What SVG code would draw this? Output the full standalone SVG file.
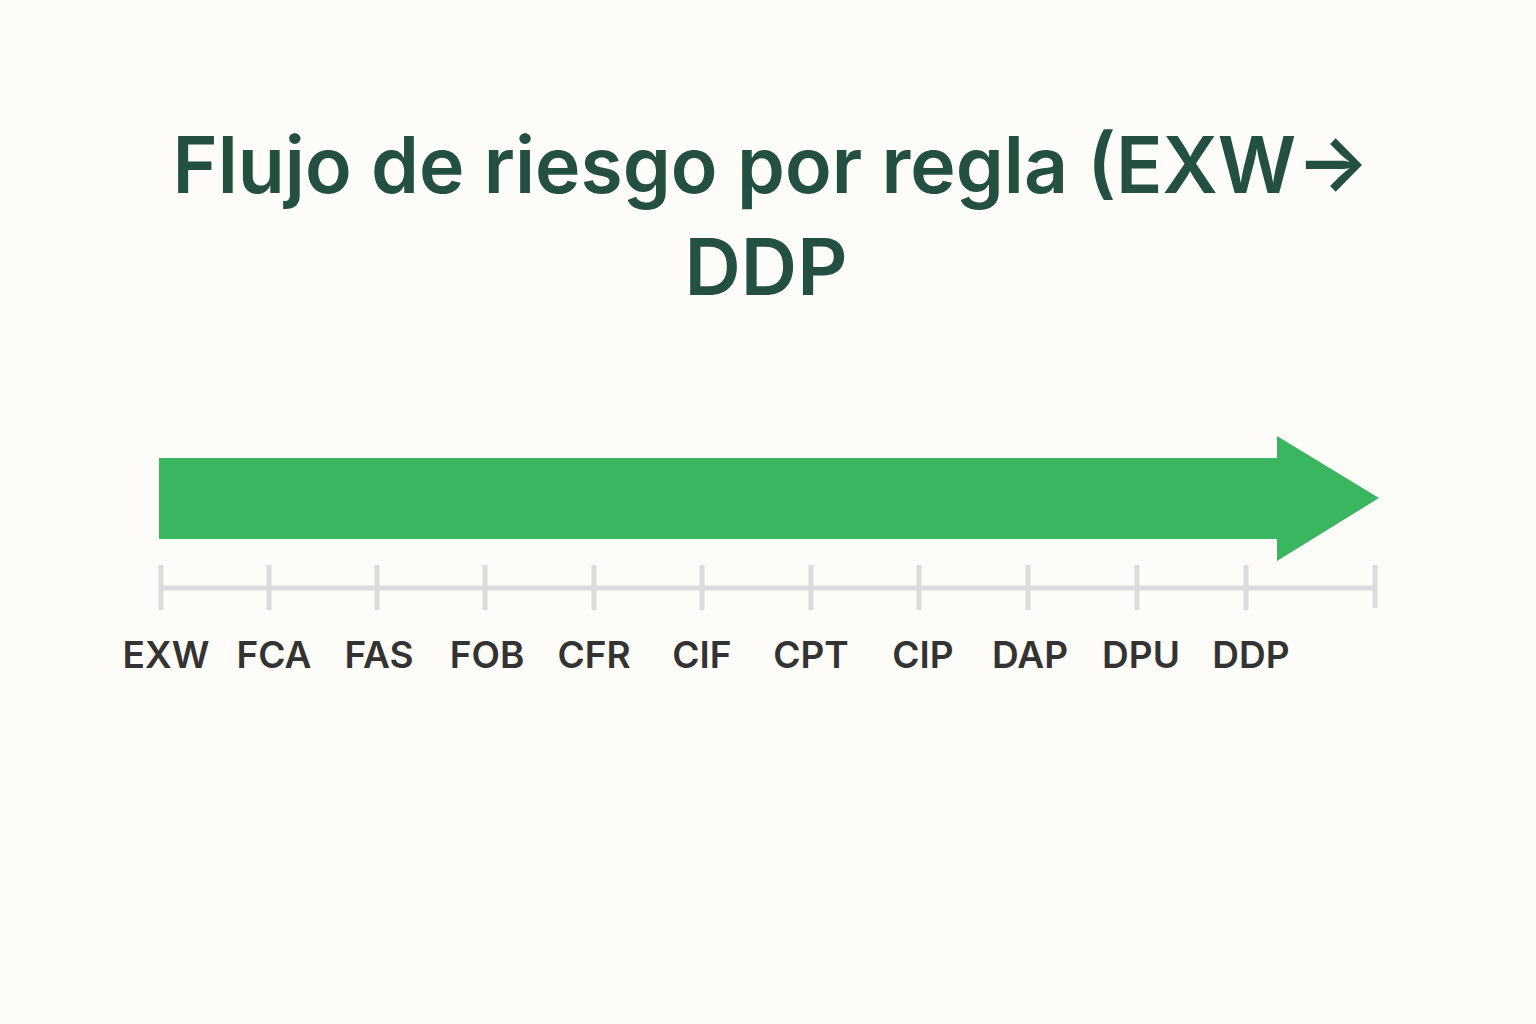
<svg xmlns="http://www.w3.org/2000/svg" width="1536" height="1024" viewBox="0 0 1536 1024">
<style>
.title{font-family:Inter,"Noto Sans","Liberation Sans",sans-serif;font-size:78px;font-weight:600;fill:#24503f;text-anchor:middle}
.lbl{font-family:Inter,"Noto Sans","Liberation Sans",sans-serif;font-size:37px;font-weight:600;fill:#333333;text-anchor:middle}
.tick{stroke:#dcdcdc;stroke-width:5;fill:none}
</style>
<rect width="1536" height="1024" fill="#fdfcf8"/>
<g id="title">
<text class="title" x="771" y="193" textLength="1197" lengthAdjust="spacingAndGlyphs">Flujo de riesgo por regla (EXW→</text>
<text class="title" x="766" y="295">DDP</text>
</g>
<g id="arrow">
<polygon points="159,458 1277,458 1277,436 1379,498 1277,561 1277,539 159,539" fill="#3ab560"/>
</g>
<g id="connectors">
<line class="tick" x1="161" y1="588" x2="1375" y2="588"/>
<g class="ticks">
<line class="tick" x1="161" y1="565" x2="161" y2="610"/>
<line class="tick" x1="269" y1="565" x2="269" y2="610"/>
<line class="tick" x1="377" y1="565" x2="377" y2="610"/>
<line class="tick" x1="485" y1="565" x2="485" y2="610"/>
<line class="tick" x1="594" y1="565" x2="594" y2="610"/>
<line class="tick" x1="702" y1="565" x2="702" y2="610"/>
<line class="tick" x1="811" y1="565" x2="811" y2="610"/>
<line class="tick" x1="919" y1="565" x2="919" y2="610"/>
<line class="tick" x1="1028" y1="565" x2="1028" y2="610"/>
<line class="tick" x1="1137" y1="565" x2="1137" y2="610"/>
<line class="tick" x1="1246" y1="565" x2="1246" y2="610"/>
<line class="tick" x1="1375" y1="565" x2="1375" y2="608"/>
</g>
</g>
<g id="labels">
<text class="lbl" x="166" y="668">EXW</text>
<text class="lbl" x="274" y="668">FCA</text>
<text class="lbl" x="379" y="668">FAS</text>
<text class="lbl" x="487" y="668">FOB</text>
<text class="lbl" x="594" y="668">CFR</text>
<text class="lbl" x="702" y="668">CIF</text>
<text class="lbl" x="811" y="668">CPT</text>
<text class="lbl" x="923" y="668">CIP</text>
<text class="lbl" x="1030" y="668">DAP</text>
<text class="lbl" x="1141" y="668">DPU</text>
<text class="lbl" x="1251" y="668">DDP</text>
</g>
</svg>
